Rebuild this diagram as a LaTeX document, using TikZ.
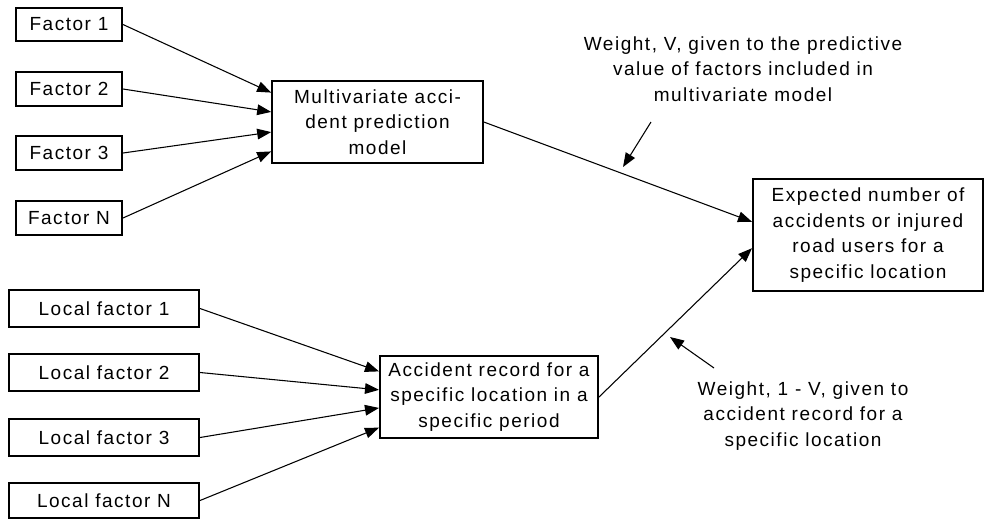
\documentclass[tikz,border=0pt]{standalone}
\usepackage{fontspec}
\setmainfont{Liberation Sans}[LetterSpace=8]
\usetikzlibrary{arrows.meta,calc}
\newcommand{\myfs}{\fontsize{14.25}{19.1}\selectfont}
\begin{document}
\begin{tikzpicture}[x=0.75pt,y=-0.75pt,
  box/.style={draw,line width=1.5pt,inner sep=0pt,align=center,font=\myfs},
  con/.style={line width=0.8pt,-{Triangle[length=10.5pt,width=8pt]}},
  lbl/.style={align=center,font=\myfs,inner sep=0pt}]
\useasboundingbox (0,0) rectangle (985,519);
% factor boxes
\node[box,minimum width=79.5pt,minimum height=25pt] (f1) at (69,24.5) {Factor 1};
\node[box,minimum width=79.5pt,minimum height=25pt] (f2) at (69,89) {Factor 2};
\node[box,minimum width=79.5pt,minimum height=25pt] (f3) at (69,153) {Factor 3};
\node[box,minimum width=79.5pt,minimum height=25pt] (fn) at (69,218) {Factor N};
% local factor boxes
\node[box,minimum width=142.5pt,minimum height=28pt] (l1) at (104,308.5) {Local factor 1};
\node[box,minimum width=142.5pt,minimum height=28pt] (l2) at (104,372.5) {Local factor 2};
\node[box,minimum width=142.5pt,minimum height=28pt] (l3) at (104,437.5) {Local factor 3};
\node[box,minimum width=142.5pt,minimum height=26pt] (ln) at (104,500.5) {Local factor N};
% middle boxes
\node[box,minimum width=158pt,minimum height=61.5pt] (mv) at (377.5,122) {Multivariate acci-\\dent prediction\\model};
\node[box,minimum width=163.5pt,minimum height=61.5pt] (ar) at (489,397) {Accident record for a\\specific location in a\\specific period};
% result box
\node[box,minimum width=172.5pt,minimum height=84pt] (ex) at (868,235) {Expected number of\\accidents or injured\\road users for a\\specific location};
% labels
\node[lbl] (w1) at (743,69) {Weight, V, given to the predictive\\value of factors included in\\multivariate model};
\node[lbl] (w2) at (803,416) {Weight, 1 - V, given to\\accident record for a\\specific location};
% connectors
\draw[con] (f1.east) -- ($(mv.north west)!0.15!(mv.south west)$);
\draw[con] (f2.east) -- ($(mv.north west)!0.38!(mv.south west)$);
\draw[con] (f3.east) -- ($(mv.north west)!0.62!(mv.south west)$);
\draw[con] (fn.east) -- ($(mv.north west)!0.85!(mv.south west)$);
\draw[con] (l1.east) -- ($(ar.north west)!0.195!(ar.south west)$);
\draw[con] (l2.east) -- ($(ar.north west)!0.415!(ar.south west)$);
\draw[con] (l3.east) -- ($(ar.north west)!0.63!(ar.south west)$);
\draw[con] (ln.east) -- ($(ar.north west)!0.865!(ar.south west)$);
\draw[con] (mv.east) -- ($(ex.north west)!0.384!(ex.south west)$);
\draw[con] (ar.east) -- ($(ex.north west)!0.616!(ex.south west)$);
% annotation arrows
\coordinate (a1s) at (651,122);
\coordinate (a1e) at (623,167);
\coordinate (a2s) at (714,368);
\coordinate (a2e) at (670,337);
\draw[con] (a1s) -- (a1e);
\draw[con] (a2s) -- (a2e);
\end{tikzpicture}
\end{document}
